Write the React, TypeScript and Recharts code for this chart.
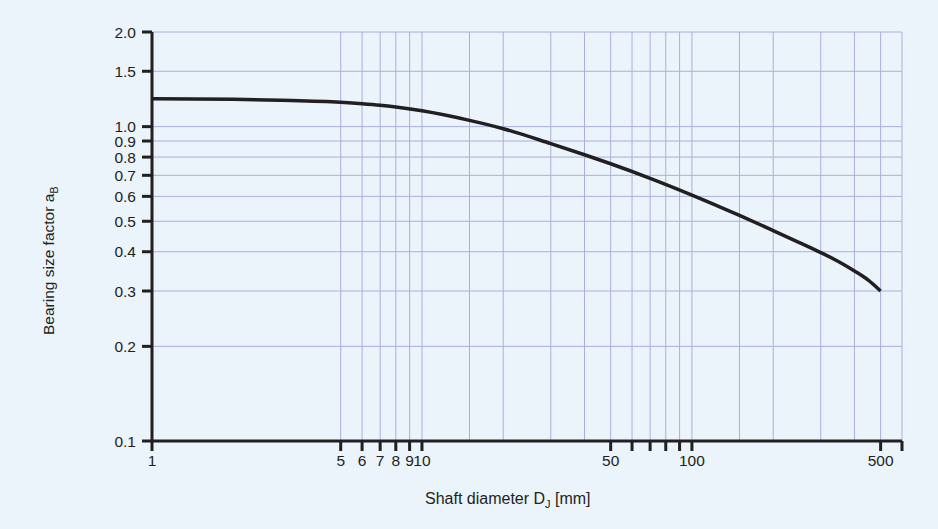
import React from "react";
import { LineChart, Line, XAxis, YAxis, ReferenceLine } from "recharts";

const diameters = [1, 2, 3, 5, 6, 7, 8, 10, 15, 20, 30, 40, 50, 70, 100, 150, 200, 250, 300, 350, 400, 450, 500];
const factors = [1.227, 1.222, 1.213, 1.195, 1.183, 1.17, 1.155, 1.123, 1.047, 0.985, 0.883, 0.814, 0.762, 0.685, 0.606, 0.522, 0.467, 0.4278, 0.3975, 0.3718, 0.3474, 0.3248, 0.3];

const xTicks = [1, 5, 6, 7, 8, 9, 10, 50, 60, 70, 80, 90, 100, 500, 600];
const xLabeled = [1, 5, 6, 7, 8, 9, 10, 50, 100, 500];
const xGrid = [5, 6, 7, 8, 9, 10, 15, 20, 30, 40, 50, 60, 70, 80, 90, 100, 150, 200, 300, 400, 500, 600];
const yTicks = [0.1, 0.2, 0.3, 0.4, 0.5, 0.6, 0.7, 0.8, 0.9, 1.0, 1.5, 2.0];
const yGrid = [0.2, 0.3, 0.4, 0.5, 0.6, 0.7, 0.8, 0.9, 1.0, 1.5, 2.0];

const data = diameters.map((d, i) => ({ d, a: factors[i] }));

const BG = "#EBF3FB";
const GRID = "#A9B0DE";
const INK = "#231F20";
const FONT = "'Liberation Sans', Arial, Helvetica, sans-serif";

export default function App() {
  return (
    <div style={{ position: "absolute", left: 0, top: 0, width: 938, height: 529, background: BG }}>
      <LineChart width={938} height={529} data={data} margin={{ top: 32, right: 36, bottom: 0, left: 0 }}>
        {xGrid.map((v) => (
          <ReferenceLine key={"x" + v} x={v} stroke={GRID} strokeWidth={1} ifOverflow="visible" />
        ))}
        {yGrid.map((v) => (
          <ReferenceLine key={"y" + v} y={v} stroke={GRID} strokeWidth={1} ifOverflow="visible" />
        ))}
        <XAxis
          dataKey="d"
          type="number"
          scale="log"
          domain={[1, 600]}
          allowDataOverflow
          ticks={xTicks}
          interval={0}
          height={88}
          tickSize={10}
          tickMargin={4}
          axisLine={{ stroke: INK, strokeWidth: 3 }}
          tickLine={{ stroke: INK, strokeWidth: 3 }}
          tick={{ fill: INK, fontSize: 15.5, fontFamily: FONT }}
          tickFormatter={(v: number) => (xLabeled.includes(v) ? String(v) : "")}
          label={{
            content: () => (
              <text x={425} y={504} fill={INK} fontSize={16} fontFamily={FONT}>
                Shaft diameter D
                <tspan fontSize={11} dy={4}>J</tspan>
                <tspan dy={-4}> [mm]</tspan>
              </text>
            ),
          }}
        />
        <YAxis
          type="number"
          scale="log"
          domain={[0.1, 2]}
          allowDataOverflow
          ticks={yTicks}
          interval={0}
          width={152}
          tickSize={10}
          tickMargin={6}
          axisLine={{ stroke: INK, strokeWidth: 3 }}
          tickLine={{ stroke: INK, strokeWidth: 3 }}
          tick={{ fill: INK, fontSize: 15.5, fontFamily: FONT }}
          tickFormatter={(v: number) => v.toFixed(1)}
          label={{
            content: () => (
              <text
                x={54}
                y={335}
                fill={INK}
                fontSize={15.5}
                fontFamily={FONT}
                transform="rotate(-90 54 335)"
              >
                Bearing size factor a
                <tspan fontSize={11} dy={4}>B</tspan>
              </text>
            ),
          }}
        />
        <Line
          dataKey="a"
          type="monotone"
          stroke={INK}
          strokeWidth={3.5}
          dot={false}
          isAnimationActive={false}
        />
      </LineChart>
    </div>
  );
}
